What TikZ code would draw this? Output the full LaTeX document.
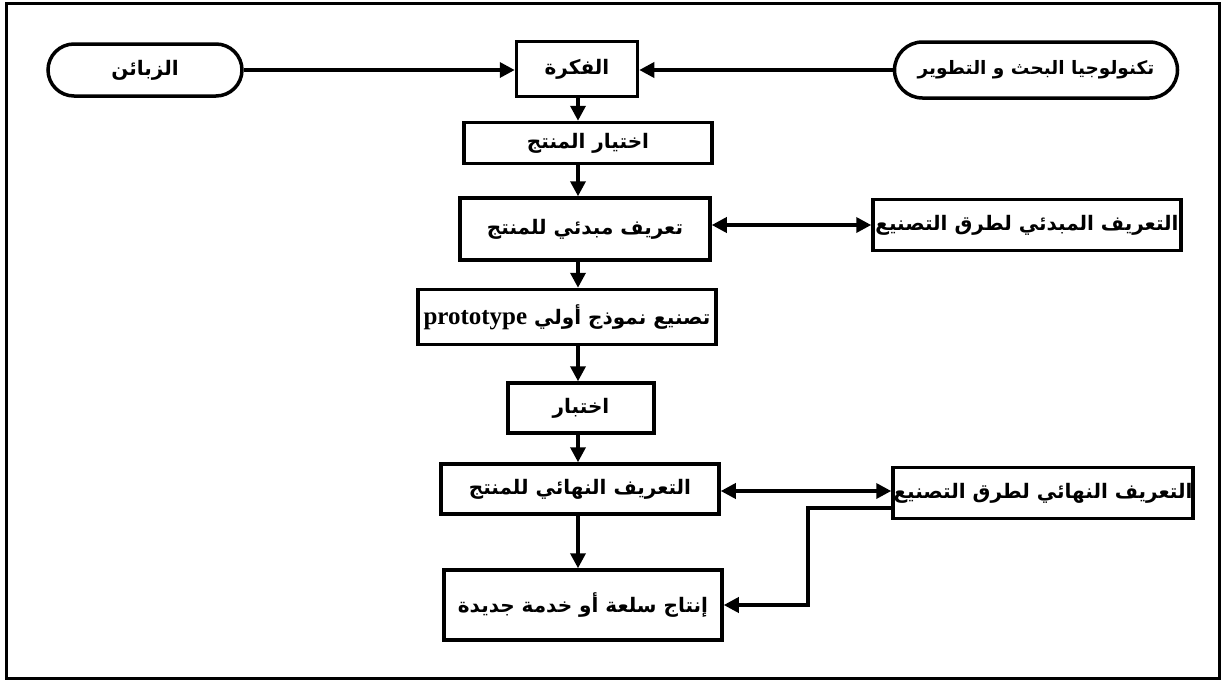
\documentclass[tikz,border=0pt]{standalone}
\usepackage{fontspec}
\setmainfont{Liberation Serif}
\newfontfamily\arab[Script=Arabic]{DejaVu Sans}
\newfontfamily\latinserif{Liberation Serif}
\TeXXeTstate=1
\usetikzlibrary{arrows.meta,shapes.misc}
\tikzset{
  every node/.style={inner sep=0pt, font=\arab\bfseries\fontsize{20}{24}\selectfont},
  stepbox/.style={draw, line width=3.5pt, rectangle},
  pill/.style={draw, line width=3.5pt, rounded rectangle},
  arr/.style={line width=3.5pt, -{Triangle[length=15pt,width=15pt]}},
  dbl/.style={line width=3.5pt, {Triangle[length=15pt,width=15pt]}-{Triangle[length=15pt,width=15pt]}},
}
\begin{document}
\begin{tikzpicture}[x=1pt,y=-1pt]
\useasboundingbox (0,0) rectangle (1224,681);
% outer frame
\draw[line width=3pt] (6,3) rectangle (1219,678);

% top row
\node[pill, minimum width=194pt, minimum height=52pt] (cust) at (145,70) {\beginR الزبائن\endR};
\node[stepbox, minimum width=121pt, minimum height=55pt] (idea) at (577,69) {\beginR الفكرة\endR};
\node[pill, minimum width=283pt, minimum height=56pt, font=\arab\bfseries\fontsize{18.5}{22}\selectfont] (rd) at (1036,70) {\beginR تكنولوجيا البحث و التطوير\endR};

% main column
\node[stepbox, minimum width=248pt, minimum height=41pt] (sel) at (588,143) {\beginR اختيار المنتج\endR};
\node[stepbox, minimum width=250pt, minimum height=62pt] (prel) at (585,229) {\beginR تعريف مبدئي للمنتج\endR};
\node[stepbox, minimum width=298pt, minimum height=55pt] (proto) at (567,317)
  {\beginR تصنيع نموذج أولي {\latinserif\bfseries\fontsize{25}{28}\selectfont\beginL prototype\endL}\endR};
\node[stepbox, minimum width=146pt, minimum height=50pt] (test) at (581,408) {\beginR اختبار\endR};
\node[stepbox, minimum width=278pt, minimum height=50pt] (finp) at (580,489) {\beginR التعريف النهائي للمنتج\endR};
\node[stepbox, minimum width=278pt, minimum height=70pt] (prod) at (583,605) {\beginR إنتاج سلعة أو خدمة جديدة\endR};

% manufacturing side
\node[stepbox, minimum width=308pt, minimum height=51pt] (prelm) at (1027,225) {\beginR التعريف المبدئي لطرق التصنيع\endR};
\node[stepbox, minimum width=300pt, minimum height=51pt] (finm) at (1043,493) {\beginR التعريف النهائي لطرق التصنيع\endR};

\coordinate (col) at (578,0);
\coordinate (bend) at (808,0);

% connectors
\draw[arr] (cust.east) -- (cust.east -| idea.west);
\draw[arr] (rd.west) -- (rd.west -| idea.east);
\draw[arr] (idea.south -| col) -- (sel.north -| col);
\draw[arr] (sel.south -| col) -- (prel.north -| col);
\draw[arr] (prel.south -| col) -- (proto.north -| col);
\draw[arr] (proto.south -| col) -- (test.north -| col);
\draw[arr] (test.south -| col) -- (finp.north -| col);
\draw[arr] (finp.south -| col) -- (prod.north -| col);
\draw[dbl] (prelm.west -| prel.east) -- (prelm.west);
\draw[dbl] ([yshift=2pt]finm.west -| finp.east) -- ([yshift=2pt]finm.west);
\draw[arr] ([yshift=-15pt]finm.west) -| (bend |- prod.east) -- (prod.east);
\end{tikzpicture}
\end{document}
